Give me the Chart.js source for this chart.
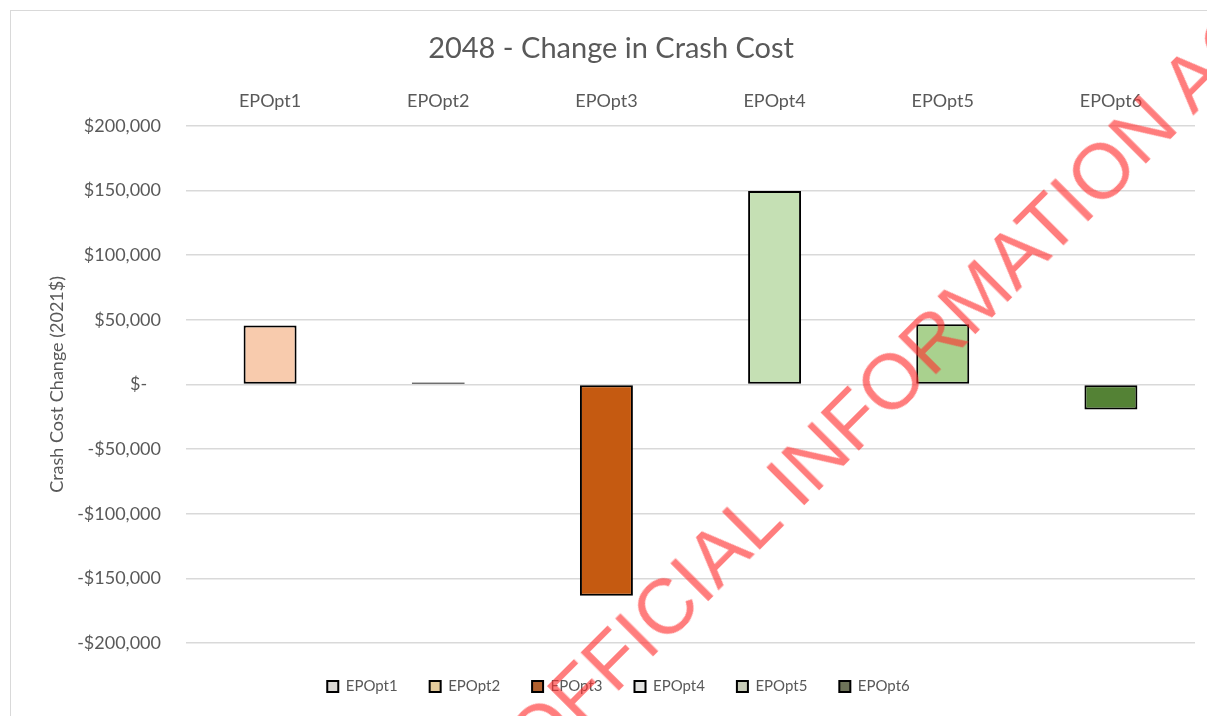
<!DOCTYPE html>
<html>
<head>
<meta charset="utf-8">
<script src="https://cdn.jsdelivr.net/npm/chart.js@4"></script>
<style>
  html, body { margin: 0; padding: 0; background: #ffffff; }
  #wrap { position: relative; width: 1207px; height: 716px; overflow: hidden; }
  #frame { position: absolute; left: 10px; top: 10px; width: 1300px; height: 800px; border: 1px solid #d9d9d9; box-sizing: border-box; }
  #costChart { position: absolute; left: 0; top: 0; }
  #stamp {
    position: absolute; left: 902px; top: 370px;
    transform: translate(-50%, -50%) rotate(-45deg);
    font-family: "Liberation Sans", Arial, sans-serif; font-size: 78px;
    color: rgba(255, 45, 45, 0.62); white-space: nowrap; pointer-events: none;
  }
</style>
</head>
<body>
<div id="wrap">
  <div id="frame"></div>
  <canvas id="costChart" width="1207" height="716"></canvas>
  <div id="stamp">OFFICIAL INFORMATION ACT</div>
</div>
<script>
var options = ["EPOpt1", "EPOpt2", "EPOpt3", "EPOpt4", "EPOpt5", "EPOpt6"];
var crashCostChange = [45500, 1500, -163500, 149500, 46500, -19500];
var barColours = ["#F8CBAD", "#F4B183", "#C55A11", "#C5E0B4", "#A9D18E", "#548235"];
var legendColours = ["#DCDAD6", "#E3CB9C", "#B0602E", "#E4E4E2", "#C8CCB8", "#6E7358"];
var yTicks = [200000, 150000, 100000, 50000, 0, -50000, -100000, -150000, -200000];

var grey = "#595959";
var font = "Lato, 'Open Sans', sans-serif";

function money(v) {
  if (v === 0) return "$-   ";
  var s = "$" + Math.abs(v).toLocaleString("en-US");
  return v < 0 ? "-" + s : s;
}

new Chart(document.getElementById("costChart"), {
  type: "bar",
  data: {
    labels: options,
    datasets: [
      {
        label: "Crash Cost Change",
        data: crashCostChange,
        backgroundColor: barColours,
        borderColor: "#000000",
        borderWidth: 2,
        borderSkipped: false,
        categoryPercentage: 1,
        barPercentage: 0.315,
      },
    ],
  },
  options: {
    responsive: false,
    animation: false,
    layout: { padding: { left: 42, right: 12, top: 0, bottom: 12 } },
    plugins: {
      title: {
        display: true,
        text: "2048 - Change in Crash Cost  ",
        color: grey,
        font: { family: font, size: 29, weight: "normal" },
        padding: { top: 31, bottom: 7 },
      },
      legend: {
        display: true,
        position: "bottom",
        title: { display: true, text: " ", font: { size: 3.34, lineHeight: 1.2 }, padding: 0 },
        labels: {
          color: grey,
          font: { family: font, size: 15 },
          boxWidth: 11,
          boxHeight: 11,
          padding: 32,
          generateLabels: function () {
            return options.map(function (name, i) {
              return {
                text: name,
                fillStyle: legendColours[i],
                strokeStyle: "#000000",
                lineWidth: 2,
                fontColor: grey,
                index: i,
              };
            });
          },
        },
        onClick: function () {},
      },
      tooltip: { enabled: false },
    },
    scales: {
      x: {
        position: "top",
        grid: { display: false, drawTicks: false },
        border: { display: false },
        ticks: { color: grey, font: { family: font, size: 18 }, padding: 14 },
        afterFit: function (scale) { scale.height = 53; },
      },
      y: {
        min: -200000,
        max: 200000,
        afterBuildTicks: function (scale) {
          scale.ticks = yTicks.map(function (v) { return { value: v }; });
        },
        grid: { color: "#d9d9d9", lineWidth: 1.5, drawTicks: false },
        border: { display: false },
        ticks: {
          color: grey,
          font: { family: font, size: 18 },
          padding: 25,
          callback: function (v) { return money(v); },
        },
        title: {
          display: true,
          text: "Crash Cost Change (2021$)",
          color: grey,
          font: { family: font, size: 18 },
          padding: 4,
        },
        afterFit: function (scale) { scale.width = 144; },
      },
    },
  },
});
</script>
</body>
</html>
